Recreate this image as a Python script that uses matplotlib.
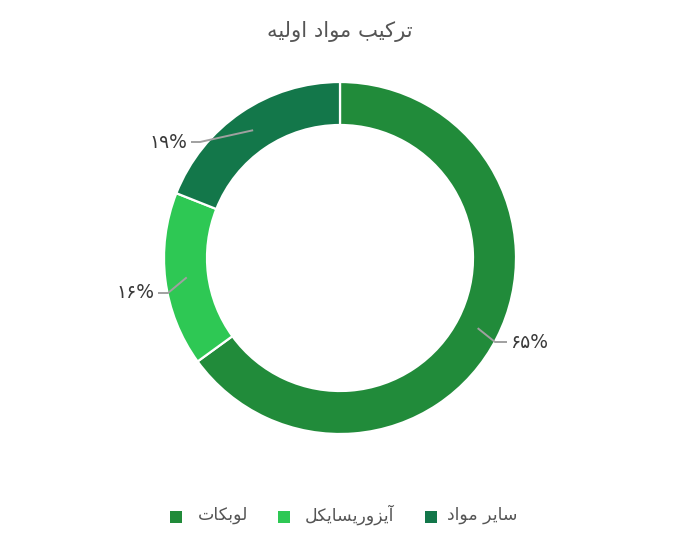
import matplotlib
matplotlib.use("Agg")
import matplotlib.pyplot as plt
import numpy as np

plt.rcParams['font.family'] = ['DejaVu Sans']

# ---- data ----
# Persian text, written as Arabic presentation forms in visual (left-to-right) order
# because matplotlib does not shape right-to-left script.
def vis(*codes):
    return "".join(chr(c) for c in codes)

# ترکیب مواد اولیه
title_text = (vis(0xFEEA, 0xFBFF, 0xFEDF, 0xFEED, 0xFE8D) + " " +
              vis(0xFEA9, 0xFE8D, 0xFEEE, 0xFEE3) + " " +
              vis(0xFE90, 0xFBFF, 0xFB90, 0xFEAE, 0xFE97))
# لوبکات , آیزوریسایکل , سایر مواد
categories = [
    vis(0xFE95, 0xFE8E, 0xFB91, 0xFE91, 0xFEEE, 0xFEDF),
    vis(0xFEDE, 0xFB91, 0xFBFE, 0xFE8E, 0xFEB4, 0xFBFE, 0xFEAD, 0xFEED, 0xFEB0, 0xFBFE, 0xFE81),
    vis(0xFEA9, 0xFE8D, 0xFEEE, 0xFEE3) + " " + vis(0xFEAE, 0xFBFE, 0xFE8E, 0xFEB3),
]
values = [65, 16, 19]
value_labels = ["\u06F6\u06F5%", "\u06F1\u06F6%", "\u06F1\u06F9%"]
colors = ["#218b3a", "#2ec854", "#13774a"]

# ---- layout (pixel-like coordinates, y up) ----
W, H = 684, 550
fig = plt.figure(figsize=(W / 100, H / 100), dpi=100)
ax = fig.add_axes([0, 0, 1, 1])
cx, cy = 340, H - 258
R, ring = 176, 43

wedges, _ = ax.pie(values, colors=colors, startangle=90, counterclock=False,
                   radius=R, center=(cx, cy),
                   wedgeprops=dict(width=ring, edgecolor="white", linewidth=1.6))
ax.set_xlim(0, W)
ax.set_ylim(0, H)
ax.set_aspect('auto')
ax.axis('off')

# leader lines: start at mid-ring, elbow, horizontal tail; text beyond
elbows = [(495, H - 342), (168, H - 293), (200, H - 142)]
tails = [12, -10, -9]
rmid = R - ring / 2
for w, lab, (ex, ey), t in zip(wedges, value_labels, elbows, tails):
    ang = np.deg2rad((w.theta1 + w.theta2) / 2)
    sx, sy = cx + rmid * np.cos(ang), cy + rmid * np.sin(ang)
    ax.plot([sx, ex, ex + t], [sy, ey, ey], color="#a0a0a0", lw=1.4,
            solid_capstyle='butt')
    ha = 'left' if t > 0 else 'right'
    ax.text(ex + t + (3 if t > 0 else -4), ey, lab, ha=ha, va='center',
            fontsize=13.5, color="#3a3a3a")

ax.text(cx, H - 31, title_text, ha='center', va='center', fontsize=15.2,
        color="#555555")

# legend
marker_x = [176, 284, 431]
text_x = [198, 305, 447]
for mx, tx, lab, c in zip(marker_x, text_x, categories, colors):
    ax.scatter([mx], [H - 517], marker='s', s=75, color=c, linewidths=0)
    ax.text(tx, H - 515, lab, ha='left', va='center', fontsize=12.5,
            color="#555555")

fig.savefig("out.png", dpi=100, facecolor="white")
